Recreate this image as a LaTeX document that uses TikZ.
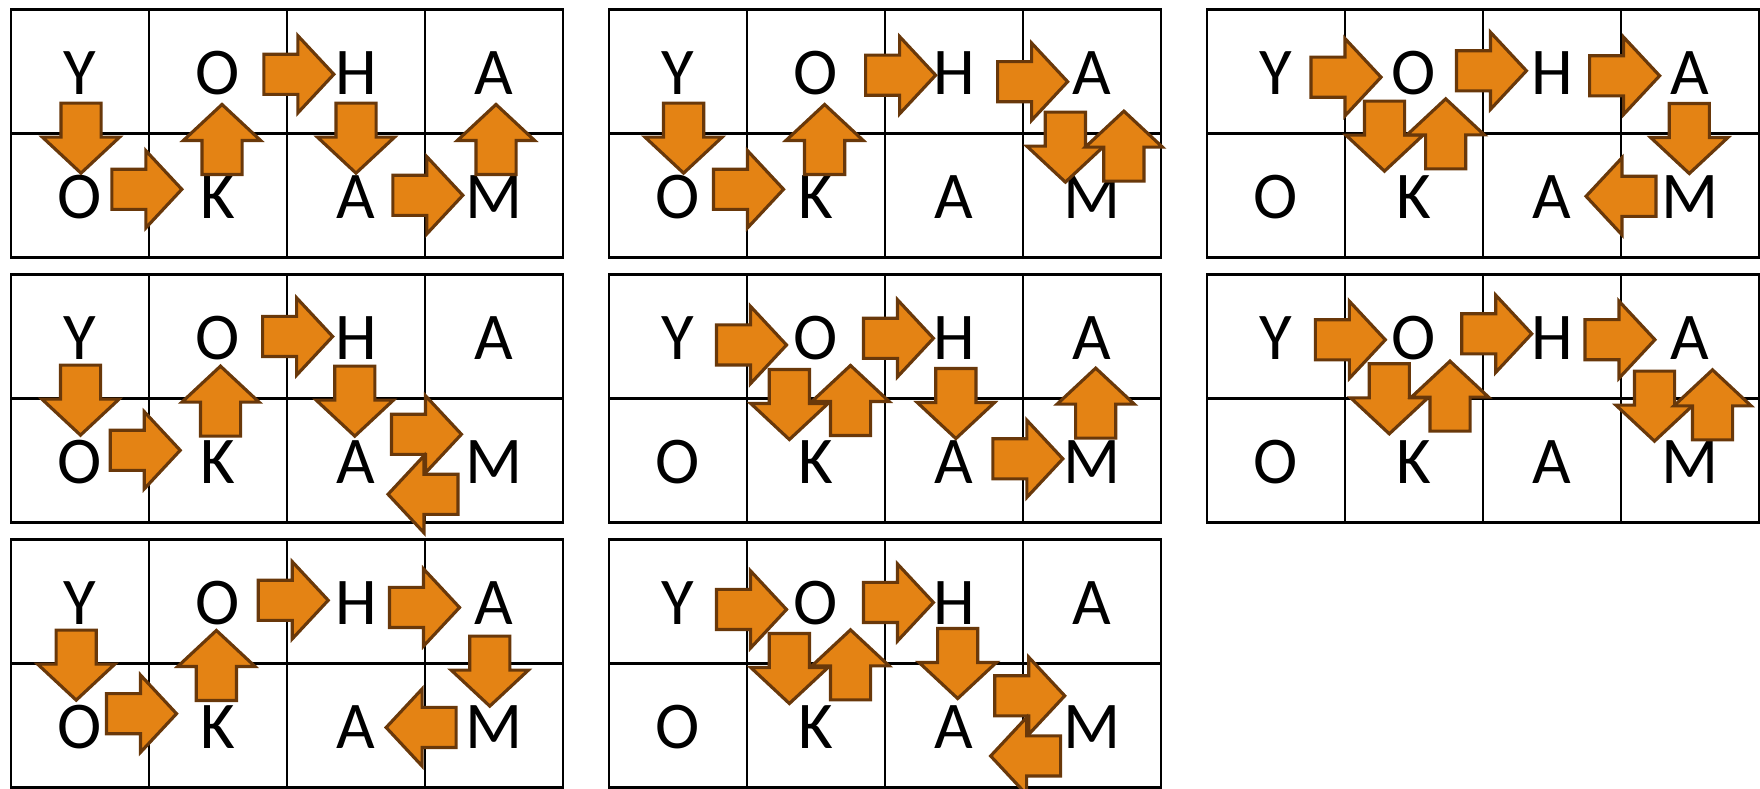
\documentclass[tikz,border=0pt]{standalone}
\usepackage{fontspec}
\setmainfont{Carlito}
\usepackage{xcolor}
\usepackage{tikz}
\usetikzlibrary{
    shapes.arrows,
    calc
}
\definecolor{arrowfill}{RGB}{228,131,20}
\definecolor{arrowedge}{RGB}{105,56,10}
\tikzset{
    cell/.style={
        draw=black,
        line width=0.8pt,
        minimum width=13.8mm,
        minimum height=12.42mm,
        inner sep=0pt,
        outer sep=0pt,
        anchor=north west,
        text height=4.67mm,
        text depth=0pt,
        font=\fontsize{19}{19}\selectfont
    }
}
\tikzset{
    blockarrow/.style={
        single arrow,
        draw=arrowedge,
        fill=arrowfill,
        line width=0.9pt,
        minimum height=7mm,
        single arrow head extend=1.85mm,
        single arrow tip angle=94,
        inner xsep=0pt,
        inner ysep=1.85mm,
        anchor=tip
    }
}

\begin{document}
\begin{tikzpicture}[x=1mm, y=-1mm]

\useasboundingbox (0,0) rectangle (176,78.9);

% ------------------------------------------------------------
% Grids
% ------------------------------------------------------------

\foreach \g/\gx/\gy in {1/1.1/0.93, 2/60.9/0.93, 3/120.7/0.93,
                        4/1.1/27.43, 5/60.9/27.43, 6/120.7/27.43,
                        7/1.1/53.93, 8/60.9/53.93} {
    \coordinate (o\g) at (\gx,\gy);
    \foreach \ta/\tb [count=\i from 0] in {Y/O, O/K, H/A, A/M} {
        \node[cell] (g\g-t\i) at ($(o\g)+(13.8*\i,0)$) {\ta};
        \node[cell] (g\g-b\i) at ($(o\g)+(13.8*\i,12.42)$) {\tb};
    }
}

% ------------------------------------------------------------
% Arrows (grid / rotation / tip)
% ------------------------------------------------------------

\foreach \g/\rot/\x/\y [count=\n] in {
    1/-90/7.0/16.6,   1/0/17.3/18.0,    1/90/21.1/9.3,    1/0/32.5/6.5,
    1/-90/34.5/16.6,  1/0/45.4/18.6,    1/90/48.5/9.3,
    2/-90/7.46/16.6,  2/0/17.67/18.0,   2/90/21.56/9.3,   2/0/32.88/6.59,
    2/0/46.08/7.24,   2/-90/45.64/17.5, 2/90/51.49/9.97,
    3/0/17.62/6.79,   3/-90/17.75/16.4, 3/90/23.87/8.74,  3/0/32.16/6.15,
    3/0/45.48/6.65,   3/-90/48.23/16.64,3/180/37.69/18.7,
    4/-90/6.95/16.3,  4/0/17.14/17.6,   4/90/20.95/8.97,  4/0/32.38/6.22,
    4/-90/34.38/16.4, 4/0/45.26/16.0,   4/180/37.49/22.0,
    5/0/17.97/7.07,   5/-90/18.04/16.74,5/90/24.15/8.9,   5/0/32.66/6.4,
    5/-90/34.69/16.64,5/0/45.6/18.45,   5/90/48.67/9.17,
    6/0/18.05/6.55,   6/-90/18.23/16.17,6/90/24.3/8.47,   6/0/32.69/5.95,
    6/0/45.01/6.54,   6/-90/44.75/16.9, 6/90/50.55/9.34,
    7/-90/6.52/16.3,  7/0/16.77/17.44,  7/90/20.54/8.9,   7/0/31.94/6.1,
    7/0/45.07/6.82,   7/-90/47.88/16.9, 7/180/37.3/18.82,
    8/0/17.97/7.02,   8/-90/18.04/16.64,8/90/24.15/8.84,  8/0/32.66/6.32,
    8/-90/34.87/16.14,8/0/45.79/15.65,  8/180/37.95/21.67} {
    \node[blockarrow, rotate=\rot] (a\n) at ($(o\g)+(\x,\y)$) {};
}

\end{tikzpicture}
\end{document}
